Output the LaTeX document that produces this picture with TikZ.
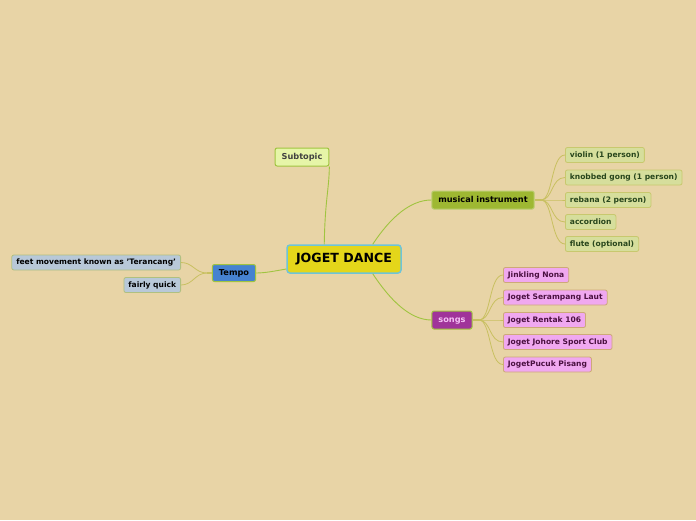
\documentclass[tikz,border=0pt]{standalone}
\usepackage{fontspec}
\setmainfont{DejaVu Sans}
\usetikzlibrary{positioning, calc}
\definecolor{bgtan}{RGB}{232,212,166}
\definecolor{rootfill}{RGB}{228,214,26}
\definecolor{rootline}{RGB}{110,196,216}
\definecolor{greenline}{RGB}{160,196,64}
\definecolor{oliveline}{RGB}{200,192,96}
\definecolor{subfill}{RGB}{230,245,168}
\definecolor{instfill}{RGB}{158,184,50}
\definecolor{songfill}{RGB}{160,52,154}
\definecolor{tempofill}{RGB}{70,130,208}
\definecolor{leaffill}{RGB}{214,222,156}
\definecolor{leafline}{RGB}{200,200,110}
\definecolor{leaftext}{RGB}{40,70,28}
\definecolor{pinkfill}{RGB}{240,168,240}
\definecolor{pinkline}{RGB}{205,170,120}
\definecolor{pinktext}{RGB}{74,16,64}
\definecolor{bluefill}{RGB}{184,200,216}
\definecolor{blueline}{RGB}{176,192,128}
\tikzset{
  topic/.style={rectangle, rounded corners=2pt, draw, line width=1pt, inner xsep=6.5pt, inner ysep=0pt, minimum height=18pt, text height=6pt, text depth=1.8pt, font=\bfseries\fontsize{8.2}{10}\selectfont},
  leaf/.style={rectangle, rounded corners=2pt, draw, line width=0.8pt, inner xsep=4.5pt, inner ysep=0pt, minimum height=15pt, text height=5.6pt, text depth=1.6pt, font=\bfseries\fontsize{7.55}{9}\selectfont},
  branch/.style={greenline, line width=0.9pt},
  twig/.style={oliveline, line width=0.8pt}
}
\begin{document}
\begin{tikzpicture}[x=1pt, y=-1pt]
  \fill[bgtan] (0,0) rectangle (696,520);
  \useasboundingbox (0,0) rectangle (696,520);

  % Central topic
  \node[rectangle, rounded corners=3pt, draw=rootline, line width=1.5pt, fill=rootfill, minimum width=114pt, minimum height=28pt, text height=9pt, text depth=2.6pt, font=\bfseries\fontsize{12.6}{14}\selectfont] (joget) at (344,259) {JOGET DANCE};

  % Main topics
  \node[topic, draw=greenline, fill=subfill, text=black!75] (subtopic) at (302,157) {Subtopic};
  \node[topic, draw=instfill!70!white, fill=instfill] (instrument) at (483,200) {musical instrument};
  \node[topic, draw=greenline, fill=songfill, text=pinkfill!70!white] (songs) at (452,320) {songs};
  \node[topic, draw=greenline, fill=tempofill, minimum height=17pt] (tempo) at (234,273) {Tempo};

  % Instruments
  \node[leaf, anchor=west, draw=leafline, fill=leaffill, text=leaftext] (violin) at (565,155) {violin (1 person)};
  \node[leaf, anchor=west, draw=leafline, fill=leaffill, text=leaftext] (gong) at (565,177.5) {knobbed gong (1 person)};
  \node[leaf, anchor=west, draw=leafline, fill=leaffill, text=leaftext] (rebana) at (565,200) {rebana (2 person)};
  \node[leaf, anchor=west, draw=leafline, fill=leaffill, text=leaftext] (accordion) at (565,222) {accordion};
  \node[leaf, anchor=west, draw=leafline, fill=leaffill, text=leaftext] (flute) at (565,244) {flute (optional)};

  % Songs
  \node[leaf, anchor=west, draw=pinkline, fill=pinkfill, text=pinktext] (jinkling) at (503,275) {Jinkling Nona};
  \node[leaf, anchor=west, draw=pinkline, fill=pinkfill, text=pinktext] (serampang) at (503,297.5) {Joget Serampang Laut};
  \node[leaf, anchor=west, draw=pinkline, fill=pinkfill, text=pinktext] (rentak) at (503,320) {Joget Rentak 106};
  \node[leaf, anchor=west, draw=pinkline, fill=pinkfill, text=pinktext] (johore) at (503,342) {Joget Johore Sport Club};
  \node[leaf, anchor=west, draw=pinkline, fill=pinkfill, text=pinktext] (pucuk) at (503,364.5) {JogetPucuk Pisang};

  % Tempo
  \node[leaf, anchor=east, draw=blueline, fill=bluefill] (feet) at (181,262.5) {feet movement known as 'Terancang'};
  \node[leaf, anchor=east, draw=blueline, fill=bluefill] (quick) at (181,285) {fairly quick};

  % Hubs
  \coordinate (insthub) at (541,200);
  \coordinate (songhub) at (479,320);
  \coordinate (tempohub) at (207,273);

  % Branches from centre
  \draw[branch] ($(joget.north west)+(38,0)$) .. controls (325,200) and (329,190) .. (subtopic.south east);
  \draw[branch] ($(joget.north east)+(-29,0)$) .. controls (390,218) and (410,200) .. (instrument.west);
  \draw[branch] ($(joget.south east)+(-29,0)$) .. controls (390,300) and (410,320) .. (songs.west);
  \draw[branch] ($(joget.west)+(0,10)$) .. controls (275,271) and (265,273) .. (tempo.east);

  % Twigs
  \draw[oliveline, line width=1.6pt] (instrument.east) -- (insthub);
  \draw[oliveline, line width=1.6pt] (songs.east) -- (songhub);
  \draw[oliveline, line width=1.6pt] (tempo.west) -- (tempohub);
  \foreach \leafname in {violin, gong, rebana, accordion, flute}
    \draw[twig] (insthub) .. controls ($(insthub)+(12,0)$) and ($(\leafname.west)+(-14,0)$) .. (\leafname.west);
  \foreach \leafname in {jinkling, serampang, rentak, johore, pucuk}
    \draw[twig] (songhub) .. controls ($(songhub)+(12,0)$) and ($(\leafname.west)+(-14,0)$) .. (\leafname.west);
  \foreach \leafname in {feet, quick}
    \draw[twig] (tempohub) .. controls ($(tempohub)+(-12,0)$) and ($(\leafname.east)+(12,0)$) .. (\leafname.east);
\end{tikzpicture}
\end{document}
